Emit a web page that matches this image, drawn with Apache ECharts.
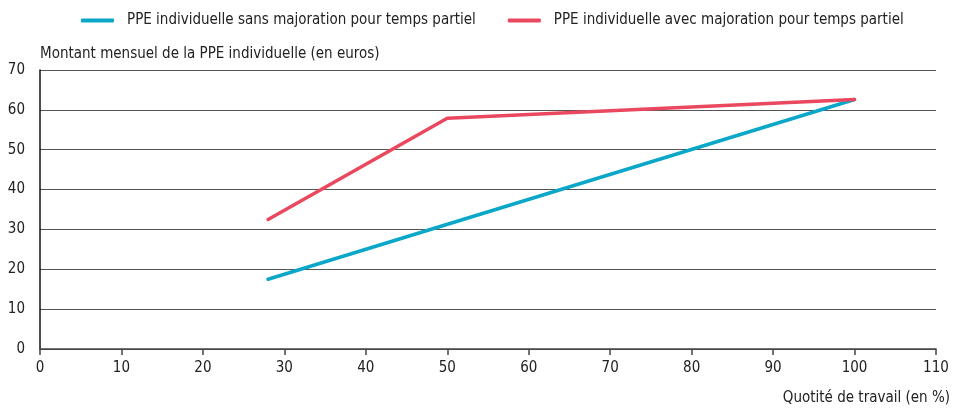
<!DOCTYPE html>
<html>
<head>
<meta charset="utf-8">
<script src="https://cdn.jsdelivr.net/npm/echarts@6/dist/echarts.min.js"></script>
<style>
  html, body { margin: 0; padding: 0; background: #fff; }
  #chart { width: 957px; height: 410px; }
</style>
</head>
<body>
<div id="chart"></div>
<script>
// Quotité de travail (%) / montant mensuel (euros)
var sansMajoration = [[28, 17.5], [100, 62.6]];
var avecMajoration = [[28, 32.5], [50, 57.9], [100, 62.6]];
var seriesNames = [
  "PPE individuelle sans majoration pour temps partiel",
  "PPE individuelle avec majoration pour temps partiel"
];
var xTicks = { min: 0, max: 110, interval: 10 };
var yTicks = { min: 0, max: 70, interval: 10 };

var font = "'Liberation Sans Narrow', 'DejaVu Sans Condensed', sans-serif";
var chart = echarts.init(document.getElementById("chart"));

var option = {
  animation: false,
  textStyle: { fontFamily: font, color: "#222" },
  color: ["#0aa7c9", "#e9485e"],
  legend: {
    top: 8,
    left: 76,
    itemGap: 32,
    itemWidth: 33,
    itemHeight: 4,
    icon: "roundRect",
    textStyle: { fontFamily: font, fontSize: 15, color: "#222", padding: [0, 0, 0, 8] },
    data: seriesNames
  },
  grid: { left: 40, right: 21, top: 70, bottom: 61 },
  xAxis: {
    type: "value",
    min: xTicks.min,
    max: xTicks.max,
    interval: xTicks.interval,
    name: "Quotité de travail (en %)",
    nameLocation: "end",
    nameGap: 0,
    nameTextStyle: {
      fontFamily: font, fontSize: 15, color: "#222",
      align: "right", verticalAlign: "top", padding: [42, -14, 0, 0]
    },
    axisLine: { lineStyle: { color: "#444", width: 1.5 } },
    axisTick: { show: true, length: 6, lineStyle: { color: "#444", width: 1.5 } },
    axisLabel: { fontFamily: font, fontSize: 15, color: "#222", margin: 12 },
    splitLine: { show: false }
  },
  yAxis: {
    type: "value",
    min: yTicks.min,
    max: yTicks.max,
    interval: yTicks.interval,
    name: "Montant mensuel de la PPE individuelle (en euros)",
    nameLocation: "end",
    nameGap: 8,
    nameTextStyle: {
      fontFamily: font, fontSize: 15, color: "#222",
      align: "left", padding: [0, 0, 0, 0]
    },
    axisLine: { show: true, lineStyle: { color: "#111", width: 1.5 } },
    axisTick: { show: false },
    axisLabel: { fontFamily: font, fontSize: 15, color: "#222", margin: 15 },
    splitLine: { show: true, lineStyle: { color: "#555", width: 1 } }
  },
  series: [
    {
      name: seriesNames[0],
      type: "line",
      data: sansMajoration,
      symbol: "none",
      lineStyle: { width: 3.5, cap: "round" }
    },
    {
      name: seriesNames[1],
      type: "line",
      data: avecMajoration,
      symbol: "none",
      lineStyle: { width: 3.5, cap: "round", join: "round" }
    }
  ]
};

chart.setOption(option);
</script>
</body>
</html>
